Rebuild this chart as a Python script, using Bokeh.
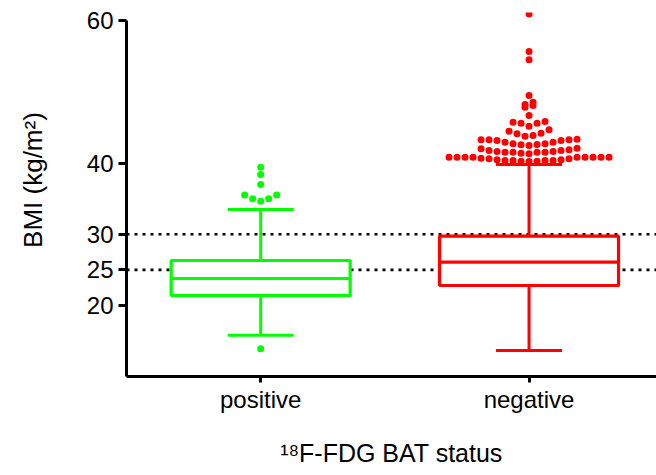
import math

from bokeh.embed import file_html
from bokeh.models import FixedTicker, Range1d, Span
from bokeh.plotting import figure
from bokeh.resources import INLINE

# ---- data -----------------------------------------------------------------
CATEGORIES = ["positive", "negative"]
COLORS = ["#00FF00", "#FF0000"]

LOWER_WHISKER = [15.83, 13.68]
Q1 = [21.40, 22.81]
MEDIAN = [23.79, 26.08]
Q3 = [26.32, 29.73]
UPPER_WHISKER = [33.47, 39.79]

POSITIVE_OUTLIERS = [13.92, 34.64, 35.00, 35.00, 35.50, 35.50, 36.98, 38.39, 39.41]
NEGATIVE_OUTLIERS = [
    # 40-41
    40.21, 40.25, 40.25, 40.35, 40.35, 40.35, 40.35, 40.45, 40.45, 40.59, 40.59,
    40.67, 40.81, 40.81, 40.81, 40.81, 40.81, 40.81, 40.81, 40.81, 40.81,
    # 41-42
    41.29, 41.38, 41.52, 41.52, 41.52, 41.52, 41.61, 41.61, 41.75, 41.75,
    41.85, 41.99, 42.08,
    # 42-43
    42.46, 42.55, 42.60, 42.69, 42.69, 42.92, 42.92, 43.16, 43.16, 43.25,
    43.25, 43.25, 43.34,
    # 44-50
    43.76, 43.86, 44.09, 44.18, 44.46, 44.65,
    45.16, 45.59, 45.59, 45.73, 45.84,
    46.67, 47.83, 48.07, 48.21, 48.53, 49.47,
    # extreme values
    54.48, 55.65, 60.90,
]
OUTLIERS = [POSITIVE_OUTLIERS, NEGATIVE_OUTLIERS]

Y_TICKS = [20, 25, 30, 40, 60]
REFERENCE_LINES = [25, 30]

# non-breaking spaces in front lift the centred y title towards the upper ticks
Y_TITLE = "\u00a0" * 4 + "BMI (kg/m²)"
X_TITLE = "¹⁸F-FDG BAT status"

# ---- layout ---------------------------------------------------------------
W, H = 656, 475
BORDER_LEFT, BORDER_RIGHT, BORDER_TOP, BORDER_BOTTOM = 126, 0, 12, 99
X_START, X_END = 0.5, 2.475
Y_START, Y_END = 10.04, 61.12
AXIS_TOP = 60

FRAME_W = W - BORDER_LEFT - BORDER_RIGHT
PX_PER_X = FRAME_W / (X_END - X_START)

BOX_W = 179 / PX_PER_X
CAP_W = 66 / PX_PER_X
DOT_STEP = 8 / PX_PER_X
BIN_ORIGIN, BIN_WIDTH = 40.12, 1.15

FONT = "Liberation Sans"


def swarm_offsets(values, step):
    """Column-scatter layout: values are grouped into horizontal rows and each
    row is spread symmetrically, lowest values nearest the centre."""
    rows = {}
    for i, v in enumerate(values):
        rows.setdefault(math.floor((v - BIN_ORIGIN) / BIN_WIDTH), []).append(i)
    offsets = [0.0] * len(values)
    for members in rows.values():
        members.sort(key=lambda i: values[i])
        n = len(members)
        slots = sorted((k - (n - 1) / 2 for k in range(n)), key=lambda s: (abs(s), s))
        for i, s in zip(members, slots):
            offsets[i] = s * step
    return offsets


p = figure(
    width=W, height=H,
    x_range=Range1d(X_START, X_END), y_range=Range1d(Y_START, Y_END),
    output_backend="svg", toolbar_location=None,
    min_border_left=BORDER_LEFT, min_border_right=BORDER_RIGHT,
    min_border_top=BORDER_TOP, min_border_bottom=BORDER_BOTTOM,
)
p.outline_line_color = None
p.background_fill_color = "white"
p.border_fill_color = "white"
p.xgrid.visible = False
p.ygrid.visible = False

# dotted reference lines behind the boxes
for level in REFERENCE_LINES:
    p.add_layout(Span(location=level, dimension="width", line_color="black",
                      line_width=2.7, line_dash="3 5", level="underlay"))

centers = [i + 1 for i in range(len(CATEGORIES))]

for c, color, lo, q1, med, q3, hi, outs in zip(
        centers, COLORS, LOWER_WHISKER, Q1, MEDIAN, Q3, UPPER_WHISKER, OUTLIERS):
    # whiskers
    p.segment(x0=[c, c], y0=[q3, q1], x1=[c, c], y1=[hi, lo],
              line_color=color, line_width=3)
    p.segment(x0=[c - CAP_W / 2] * 2, y0=[hi, lo], x1=[c + CAP_W / 2] * 2, y1=[hi, lo],
              line_color=color, line_width=3)
    # box and median
    p.quad(left=[c - BOX_W / 2], right=[c + BOX_W / 2], bottom=[q1], top=[q3],
           fill_color="white", line_color=color, line_width=3.2)
    p.segment(x0=[c - BOX_W / 2], y0=[med], x1=[c + BOX_W / 2], y1=[med],
              line_color=color, line_width=3.2)
    # outliers
    offs = swarm_offsets(outs, DOT_STEP)
    p.scatter(x=[c + o for o in offs], y=outs, size=7, marker="circle",
              fill_color=color, line_color=None)


def style_axis(ax, tick_out, standoff, title, title_size, title_standoff):
    ax.minor_tick_line_color = None
    ax.major_tick_in = 0
    ax.major_tick_out = tick_out
    ax.major_tick_line_width = 3
    ax.major_tick_line_color = "black"
    ax.axis_line_width = 3
    ax.axis_line_color = "black"
    ax.major_label_text_font = FONT
    ax.major_label_text_font_size = "24px"
    ax.major_label_text_color = "black"
    ax.major_label_standoff = standoff
    ax.axis_label = title
    ax.axis_label_text_font = FONT
    ax.axis_label_text_font_size = title_size
    ax.axis_label_text_font_style = "normal"
    ax.axis_label_text_color = "black"
    ax.axis_label_standoff = title_standoff


xa = p.xaxis[0]
xa.ticker = FixedTicker(ticks=centers)
xa.major_label_overrides = {c: name for c, name in zip(centers, CATEGORIES)}
style_axis(xa, 6, 3, X_TITLE, "25px", 23)

ya = p.yaxis[0]
ya.ticker = FixedTicker(ticks=Y_TICKS)
ya.bounds = (Y_START, AXIS_TOP)
style_axis(ya, 8, 5, Y_TITLE, "26px", 36)

open("out.html", "w").write(file_html(p, INLINE))
